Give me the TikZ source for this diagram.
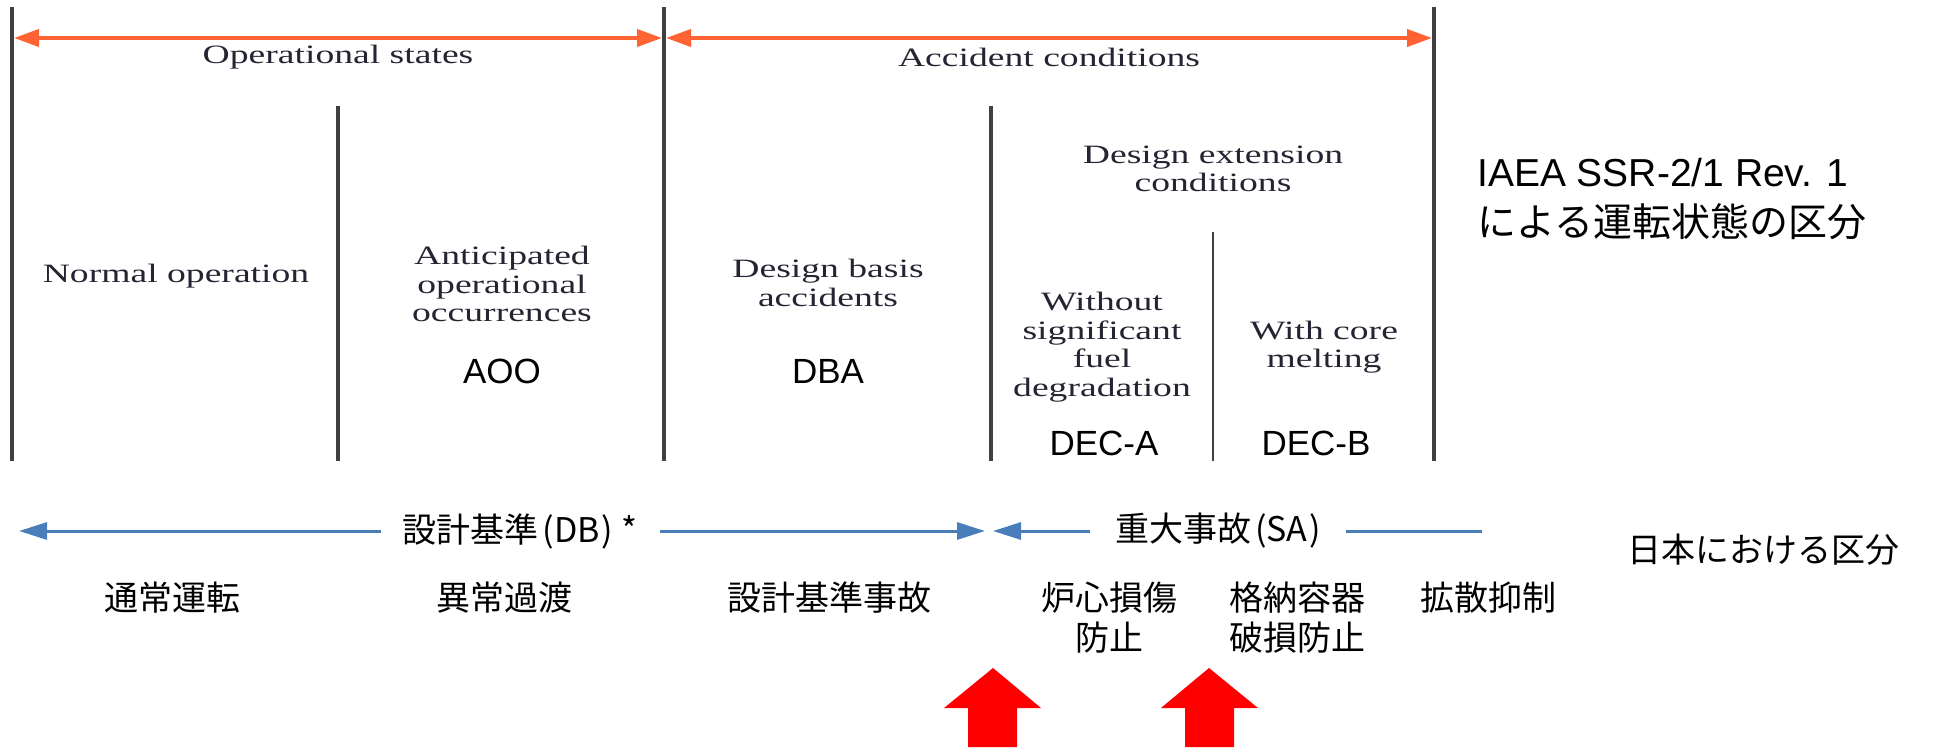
\documentclass[tikz,border=0pt]{standalone}
\usepackage{fontspec}
\setmainfont{Liberation Sans}
\newfontfamily\serw[FakeStretch=1.42]{Liberation Serif}
\newfontfamily\jp{Noto Sans CJK JP}
\usetikzlibrary{arrows.meta}
\definecolor{orng}{RGB}{255,99,51}
\definecolor{blu}{RGB}{74,126,187}
\definecolor{dk}{RGB}{64,64,64}
\definecolor{txt}{RGB}{36,36,50}
\begin{document}
\begin{tikzpicture}[x=1pt,y=-1pt,
  divider/.style={draw=dk, line width=3.5pt},
  thindiv/.style={draw=dk, line width=2.5pt},
  serlbl/.style={font=\serw\fontsize{26.5}{28.5}\selectfont, text=txt, align=center, inner sep=0pt},
  abbr/.style={font=\fontsize{35}{40}\selectfont, inner sep=0pt},
  jlbl/.style={font=\jp\fontsize{34}{40}\selectfont, inner sep=0pt, align=center},
  oarrow/.style={draw=orng, line width=4pt, {Triangle[length=25pt,width=17pt]}-{Triangle[length=25pt,width=17pt]}},
  barrow/.style={draw=blu, line width=3pt, -{Triangle[length=28pt,width=17pt]}},
  bline/.style={draw=blu, line width=3pt},
  redup/.style={fill=red}
]
\useasboundingbox (0,0) rectangle (1948,747);

% dividers
\coordinate (v1t) at (12,7);    \coordinate (v1b) at (12,461);
\coordinate (v2t) at (338,106); \coordinate (v2b) at (338,461);
\coordinate (v3t) at (664,7);   \coordinate (v3b) at (664,461);
\coordinate (v4t) at (991,106); \coordinate (v4b) at (991,461);
\coordinate (v5t) at (1213,232);\coordinate (v5b) at (1213,461);
\coordinate (v6t) at (1434,7);  \coordinate (v6b) at (1434,461);
\draw[divider] (v1t) -- (v1b);
\draw[divider] (v2t) -- (v2b);
\draw[divider] (v3t) -- (v3b);
\draw[divider] (v4t) -- (v4b);
\draw[thindiv] (v5t) -- (v5b);
\draw[divider] (v6t) -- (v6b);

% orange arrows
\coordinate (oa1) at (14,38);  \coordinate (oa2) at (662,38);
\coordinate (oa3) at (666,38); \coordinate (oa4) at (1432,38);
\draw[oarrow] (oa1) -- (oa2);
\draw[oarrow] (oa3) -- (oa4);

% IAEA labels
\node[serlbl] (ops) at (338,57) {Operational states};
\node[serlbl] (acc) at (1049,57) {Accident conditions};
\node[serlbl] (norm) at (176,276) {Normal operation};
\node[serlbl] (aoo) at (502,284) {Anticipated\\operational\\occurrences};
\node[abbr] (aooab) at (502,371) {AOO};
\node[serlbl] (dba) at (828,283) {Design basis\\accidents};
\node[abbr] (dbaab) at (828,371) {DBA};
\node[serlbl] (dec) at (1213,169) {Design extension\\conditions};
\node[serlbl] (deca) at (1102,347) {Without\\significant\\fuel\\degradation};
\node[serlbl] (decb) at (1324,347) {With core\\melting};
\node[abbr] (decaab) at (1104,443) {DEC-A};
\node[abbr] (decbab) at (1316,443) {DEC-B};

\node[anchor=west, align=left, inner sep=0pt, font=\fontsize{39}{50}\selectfont] (iaea) at (1477,199)
  {IAEA SSR-2/1 Rev. 1\\{\jp による運転状態の区分}};

% Japanese classification
\node[jlbl, inner xsep=22pt] (db) at (520,531) {設計基準\kern4pt(DB\kern2pt)\kern8pt*};
\coordinate (dbL) at (19,531);
\coordinate (dbR) at (985,531);
\draw[barrow] (db.west) -- (dbL);
\draw[barrow] (db.east) -- (dbR);

\node[jlbl, inner xsep=25pt] (sa) at (1218,531) {重大事故\kern4pt(SA\kern2pt)};
\coordinate (saL) at (993,531);
\coordinate (saR) at (1482,531);
\draw[barrow] (sa.west) -- (saL);
\draw[bline] (sa.east) -- (saR);

\node[jlbl, anchor=west] (jpdiv) at (1627,550) {日本における区分};

\node[jlbl] (r1) at (172,598) {通常運転};
\node[jlbl] (r2) at (504,598) {異常過渡};
\node[jlbl] (r3) at (829,598) {設計基準事故};
\node[jlbl] (r4) at (1109,618) {炉心損傷\\防止};
\node[jlbl] (r5) at (1297,618) {格納容器\\破損防止};
\node[jlbl] (r6) at (1488,598) {拡散抑制};

% red up arrows
\fill[redup] (993,668) -- (1041,708) -- (1017,708) -- (1017,747) -- (968,747) -- (968,708) -- (944,708) -- cycle;
\fill[redup] (1209,668) -- (1258,708) -- (1234,708) -- (1234,747) -- (1185,747) -- (1185,708) -- (1161,708) -- cycle;
\end{tikzpicture}
\end{document}
